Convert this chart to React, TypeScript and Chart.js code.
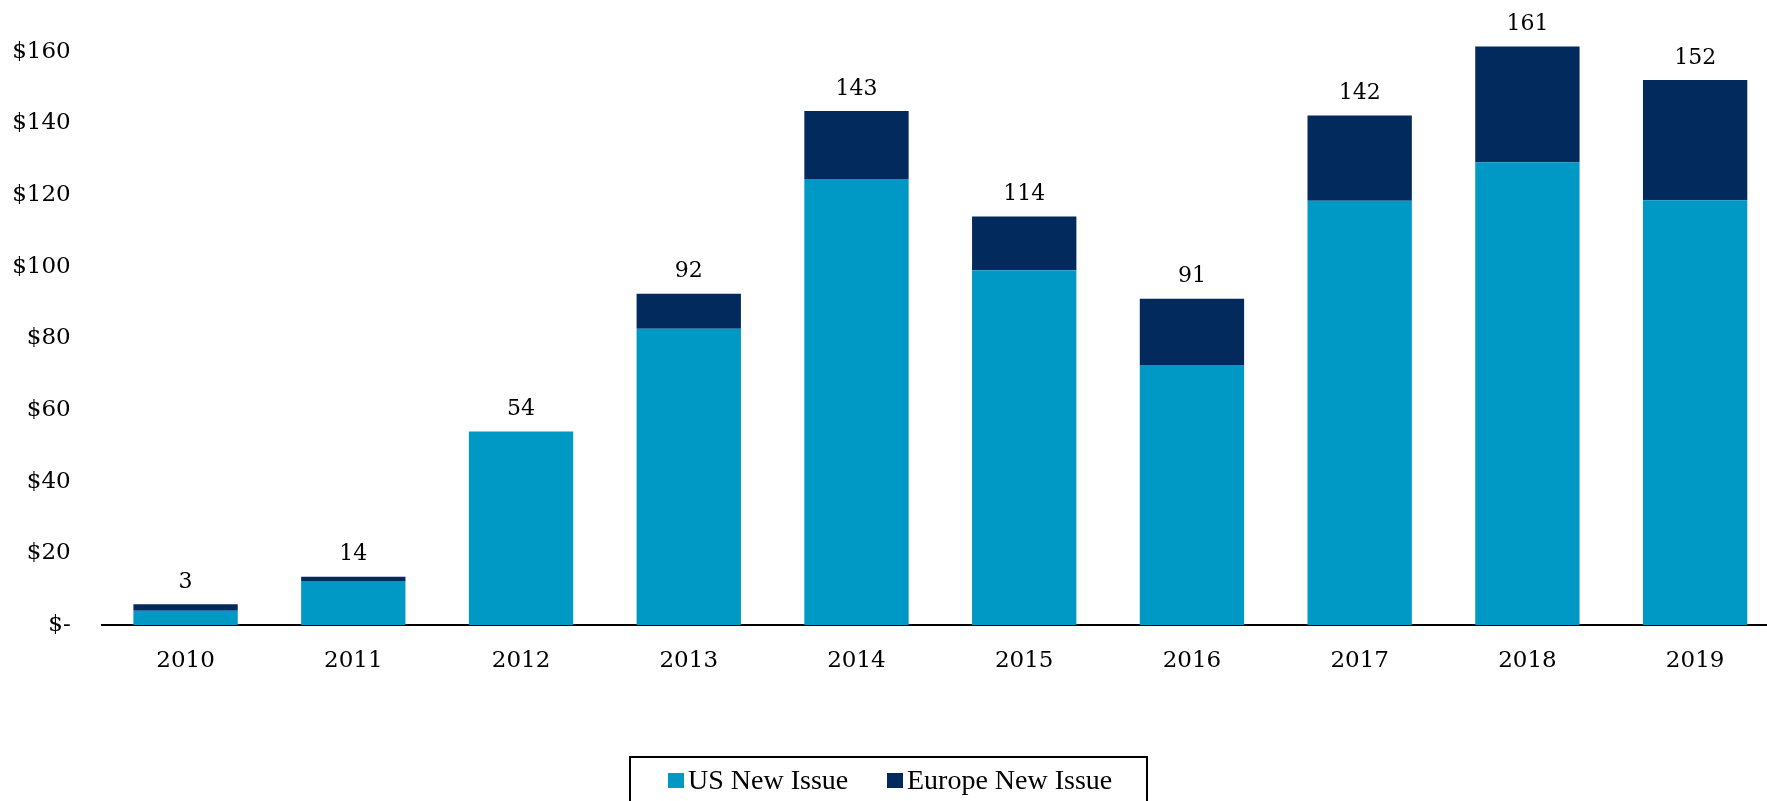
import React, { useEffect, useRef } from "react";
import { Chart, registerables } from "chart.js";

Chart.register(...registerables);

const years = ["2010", "2011", "2012", "2013", "2014", "2015", "2016", "2017", "2018", "2019"];
const usNewIssue = [4.0, 12.3, 54.0, 82.7, 124.5, 99.0, 72.6, 118.4, 129.2, 118.6];
const europeNewIssue = [1.8, 1.2, 0, 9.8, 19.0, 15.0, 18.5, 23.8, 32.3, 33.5];
const totalLabels = ["3", "14", "54", "92", "143", "114", "91", "142", "161", "152"];
const yTicks = [0, 20, 40, 60, 80, 100, 120, 140, 160];

const US_COLOR = "#0098c4";
const EU_COLOR = "#022a5c";
const TICK_FONT = "'DejaVu Serif', serif";
const LEGEND_FONT = "'Liberation Serif', 'Times New Roman', serif";

const totalsPlugin = {
  id: "totals",
  afterDatasetsDraw(chart: any) {
    const ctx = chart.ctx;
    const meta = chart.getDatasetMeta(1);
    ctx.save();
    ctx.font = `22px ${TICK_FONT}`;
    ctx.fillStyle = "#000";
    ctx.textAlign = "center";
    ctx.textBaseline = "middle";
    meta.data.forEach((bar: any, i: number) => {
      ctx.fillText(totalLabels[i], bar.x, bar.y - 22);
    });
    ctx.restore();
  },
};

const legendBoxPlugin = {
  id: "legendBox",
  afterDraw(chart: any) {
    const ctx = chart.ctx;
    ctx.save();
    const boxLeft = 630;
    const boxRight = 1147;
    const boxTop = 757;
    ctx.lineWidth = 2;
    ctx.strokeStyle = "#000";
    ctx.strokeRect(boxLeft, boxTop, boxRight - boxLeft, 80);
    ctx.font = `28px ${LEGEND_FONT}`;
    ctx.textBaseline = "middle";
    ctx.textAlign = "left";
    const ds = chart.data.datasets;
    const starts = [668, 887];
    ds.forEach((d: any, i: number) => {
      const x = starts[i];
      ctx.fillStyle = d.backgroundColor;
      ctx.fillRect(x, 773, 16, 15);
      ctx.fillStyle = "#000";
      ctx.fillText(d.label, x + 20, 782);
    });
    ctx.restore();
  },
};

export default function App() {
  const ref = useRef<HTMLCanvasElement | null>(null);

  useEffect(() => {
    document.body.style.margin = "0";
    document.body.style.overflow = "hidden";
    const canvas = ref.current;
    if (!canvas) return;
    const chart = new Chart(canvas, {
      type: "bar",
      data: {
        labels: years,
        datasets: [
          {
            label: "US New Issue",
            data: usNewIssue,
            backgroundColor: US_COLOR,
            borderWidth: 0,
          },
          {
            label: "Europe New Issue",
            data: europeNewIssue,
            backgroundColor: EU_COLOR,
            borderWidth: 0,
          },
        ],
      },
      options: {
        responsive: false,
        animation: false,
        layout: { padding: { top: 16, left: 0, right: 0, bottom: 0 } },
        datasets: {
          bar: { categoryPercentage: 1, barPercentage: 0.622 },
        },
        plugins: {
          legend: { display: false },
          tooltip: { enabled: false },
        },
        scales: {
          x: {
            stacked: true,
            grid: { display: false, drawTicks: false },
            border: { display: true, color: "#000", width: 2 },
            ticks: {
              font: { family: TICK_FONT, size: 23 },
              color: "#000",
              padding: 22,
              maxRotation: 0,
            },
            afterFit(scale: any) {
              scale.height = 176;
            },
          },
          y: {
            stacked: true,
            min: 0,
            max: 170,
            grid: { display: false, drawTicks: false },
            border: { display: false },
            ticks: {
              stepSize: 20,
              font: { family: TICK_FONT, size: 23 },
              color: "#000",
              padding: 31,
              callback: (v: any) => (Number(v) === 0 ? "$-" : "$" + v),
            },
            afterBuildTicks(scale: any) {
              scale.ticks = yTicks.map((v) => ({ value: v }));
            },
            afterFit(scale: any) {
              scale.width = 101.7;
              scale.paddingTop = 0;
              scale.paddingBottom = 0;
            },
          },
        },
      },
      plugins: [totalsPlugin, legendBoxPlugin],
    });
    return () => chart.destroy();
  }, []);

  return (
    <div style={{ width: 1779, height: 801, overflow: "hidden" }}>
      <canvas ref={ref} width={1779} height={801} style={{ display: "block" }} />
    </div>
  );
}
